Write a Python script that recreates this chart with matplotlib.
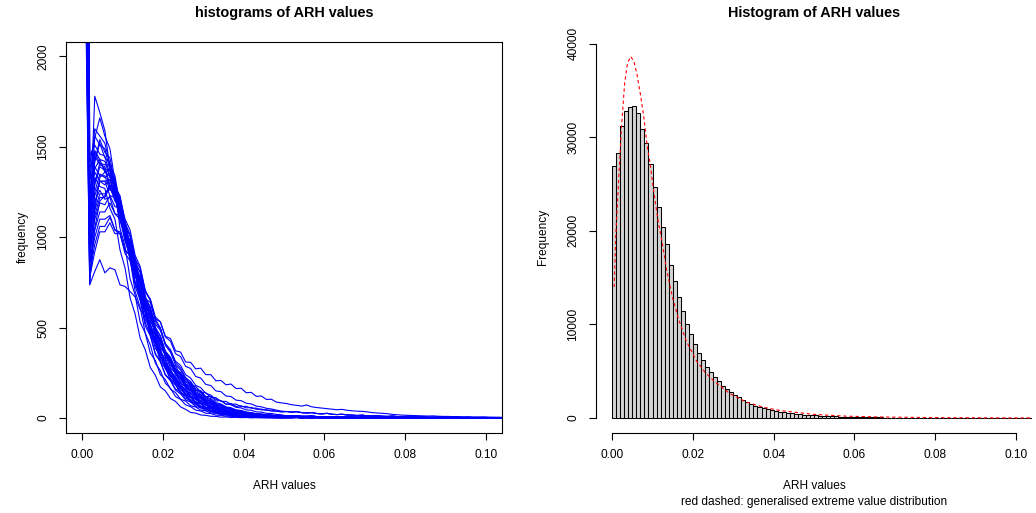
import numpy as np
import matplotlib.pyplot as plt

plt.rcParams['font.family'] = ['Liberation Sans', 'DejaVu Sans']

# left panel: one frequency polygon per sample (bin width 0.00125), first 40 bins
arh_bin = 0.00125
samples = [
    [5200, 1050, 1780, 1690, 1590, 1380, 1270, 1050, 950, 770, 680, 530, 470, 360, 318, 240, 212, 160, 141, 104, 94, 68, 61, 44, 40, 28, 27, 18, 18, 12, 12, 8, 9, 6, 6, 4, 5, 3, 4, 2],
    [4300, 1180, 1550, 1660, 1560, 1490, 1310, 1200, 1000, 900, 730, 650, 510, 455, 352, 312, 240, 212, 160, 145, 108, 98, 72, 66, 48, 45, 31, 30, 21, 20, 15, 14, 10, 10, 7, 8, 5, 6, 4, 4],
    [3600, 980, 1480, 1430, 1420, 1330, 1310, 1150, 1060, 890, 805, 665, 595, 478, 428, 338, 305, 238, 215, 165, 150, 116, 105, 80, 74, 56, 51, 38, 36, 27, 25, 19, 18, 13, 13, 9, 9, 6, 7, 5],
    [2900, 740, 1150, 1330, 1360, 1370, 1260, 1210, 1040, 950, 790, 715, 585, 525, 420, 382, 300, 272, 212, 192, 148, 136, 102, 95, 70, 66, 48, 46, 33, 32, 23, 22, 16, 15, 11, 11, 8, 8, 5, 6],
    [6100, 1250, 1420, 1520, 1440, 1410, 1280, 1220, 1050, 960, 800, 720, 585, 522, 418, 372, 290, 260, 198, 178, 134, 122, 90, 82, 60, 55, 40, 37, 27, 26, 18, 17, 12, 12, 8, 9, 6, 7, 4, 5],
    [2700, 737, 811, 876, 803, 831, 820, 737, 728, 700, 670, 600, 565, 490, 462, 390, 365, 305, 288, 238, 224, 182, 175, 144, 140, 114, 113, 92, 92, 76, 77, 63, 65, 54, 55, 45, 46, 38, 38, 33],
    [4800, 900, 1120, 1220, 1220, 1280, 1210, 1180, 1040, 970, 820, 755, 622, 570, 462, 425, 338, 310, 242, 222, 172, 158, 122, 113, 86, 81, 61, 58, 43, 42, 31, 30, 21, 21, 16, 15, 11, 11, 8, 8],
    [3900, 1020, 1300, 1410, 1400, 1400, 1270, 1180, 990, 880, 700, 612, 470, 405, 304, 262, 192, 165, 119, 103, 73, 63, 44, 39, 27, 25, 16, 15, 10, 10, 6, 7, 4, 5, 3, 3, 2, 2, 1, 2],
    [4500, 1100, 1330, 1280, 1270, 1160, 1100, 930, 830, 665, 575, 442, 378, 280, 237, 172, 150, 108, 92, 62, 48, 31, 27, 17, 15, 10, 9, 5, 6, 3, 4, 2, 3, 1, 2, 1, 1, 1, 0, 0],
    [3300, 850, 1000, 1100, 1100, 1120, 1040, 1020, 910, 870, 750, 705, 598, 552, 462, 428, 350, 328, 265, 252, 200, 195, 152, 152, 118, 121, 94, 97, 76, 80, 64, 68, 56, 59, 48, 50, 42, 44, 37, 36],
    [3000, 800, 960, 1060, 1060, 1110, 1040, 1030, 930, 900, 790, 765, 660, 640, 548, 532, 452, 440, 372, 365, 310, 308, 272, 276, 240, 240, 206, 208, 184, 188, 163, 165, 140, 142, 120, 122, 103, 104, 88, 84],
    [5600, 1300, 1600, 1560, 1520, 1400, 1340, 1180, 1090, 925, 845, 698, 630, 512, 460, 366, 330, 256, 232, 178, 162, 120, 112, 82, 76, 55, 52, 37, 35, 25, 24, 16, 16, 11, 11, 7, 8, 5, 6, 4],
    [4100, 960, 1250, 1350, 1330, 1350, 1250, 1200, 1050, 975, 825, 758, 628, 575, 470, 432, 348, 320, 255, 236, 186, 173, 135, 125, 97, 91, 70, 66, 51, 48, 37, 35, 26, 25, 20, 19, 14, 14, 10, 11],
    [7000, 1380, 1450, 1400, 1390, 1290, 1260, 1130, 1060, 905, 830, 682, 615, 490, 436, 340, 302, 230, 205, 154, 137, 102, 91, 66, 60, 43, 39, 28, 26, 18, 17, 12, 11, 7, 8, 5, 6, 3, 4, 2],
    [3400, 880, 1180, 1310, 1310, 1320, 1220, 1180, 1040, 975, 830, 768, 640, 585, 478, 435, 348, 318, 250, 228, 178, 163, 125, 116, 88, 81, 61, 57, 43, 40, 30, 29, 21, 20, 15, 14, 10, 10, 7, 7],
    [5000, 1150, 1380, 1430, 1360, 1340, 1210, 1140, 980, 900, 745, 675, 545, 492, 386, 348, 270, 243, 185, 168, 126, 115, 86, 78, 58, 53, 39, 36, 26, 24, 18, 17, 12, 12, 8, 8, 5, 6, 4, 4],
    [3800, 1000, 1200, 1260, 1210, 1220, 1130, 1100, 980, 930, 800, 748, 628, 582, 478, 440, 356, 328, 260, 240, 190, 175, 137, 128, 99, 93, 71, 68, 52, 50, 38, 36, 27, 27, 20, 20, 15, 15, 11, 11],
    [8500, 1450, 1510, 1460, 1450, 1340, 1290, 1140, 1060, 895, 815, 665, 598, 474, 420, 326, 288, 218, 193, 143, 128, 94, 84, 61, 56, 40, 37, 26, 24, 17, 16, 11, 11, 7, 7, 5, 5, 3, 4, 2],
    [4400, 1080, 1290, 1390, 1370, 1380, 1280, 1230, 1080, 1005, 850, 778, 642, 585, 472, 427, 340, 306, 242, 217, 170, 152, 118, 107, 82, 75, 57, 52, 40, 37, 27, 26, 19, 18, 13, 13, 9, 9, 6, 7],
    [3100, 780, 920, 1030, 1030, 1080, 1020, 1020, 925, 900, 790, 755, 650, 612, 520, 485, 407, 378, 314, 291, 240, 221, 181, 168, 137, 127, 103, 96, 78, 73, 59, 56, 45, 43, 34, 33, 26, 25, 20, 18],
    [6600, 1220, 1360, 1310, 1310, 1230, 1220, 1110, 1060, 920, 855, 718, 658, 538, 487, 390, 350, 277, 248, 193, 172, 133, 118, 90, 81, 61, 55, 42, 38, 28, 26, 20, 18, 13, 13, 9, 9, 6, 7, 5],
    [3500, 920, 1100, 1190, 1180, 1230, 1170, 1160, 1050, 1010, 880, 828, 705, 652, 546, 500, 412, 375, 305, 277, 223, 202, 162, 147, 117, 107, 85, 78, 62, 57, 45, 42, 33, 30, 24, 23, 18, 17, 13, 12],
    [4700, 1120, 1420, 1540, 1470, 1440, 1290, 1200, 1020, 920, 750, 668, 528, 463, 358, 312, 237, 206, 154, 134, 100, 88, 64, 57, 41, 37, 26, 24, 17, 15, 10, 10, 6, 7, 4, 5, 3, 3, 2, 2],
    [2800, 760, 1050, 1200, 1230, 1290, 1230, 1220, 1100, 1040, 900, 838, 706, 652, 538, 492, 402, 364, 294, 266, 213, 193, 154, 140, 111, 102, 80, 74, 59, 54, 43, 40, 32, 29, 23, 22, 17, 17, 13, 12],
    [5900, 1320, 1390, 1340, 1340, 1260, 1250, 1140, 1090, 950, 885, 745, 680, 560, 505, 408, 366, 290, 260, 203, 183, 141, 127, 97, 87, 67, 60, 46, 42, 31, 28, 22, 20, 15, 14, 10, 10, 7, 7, 6],
    [4000, 1000, 1230, 1310, 1290, 1320, 1240, 1210, 1080, 1015, 870, 804, 670, 614, 502, 455, 366, 331, 262, 238, 186, 170, 131, 120, 92, 85, 65, 60, 46, 42, 32, 30, 23, 21, 16, 16, 12, 12, 9, 8],
    [3200, 860, 1040, 1140, 1140, 1190, 1130, 1120, 1010, 970, 850, 810, 695, 660, 560, 532, 448, 425, 356, 340, 286, 274, 230, 221, 186, 180, 150, 146, 122, 119, 99, 96, 82, 78, 66, 62, 54, 50, 44, 38],
    [7600, 1400, 1560, 1510, 1490, 1370, 1310, 1150, 1060, 890, 805, 652, 582, 460, 406, 314, 276, 210, 183, 137, 121, 88, 79, 56, 51, 36, 33, 23, 21, 15, 14, 9, 9, 6, 6, 4, 4, 3, 3, 2],
    [3700, 940, 1150, 1240, 1240, 1280, 1200, 1170, 1040, 980, 838, 778, 650, 600, 494, 452, 370, 336, 273, 248, 200, 181, 145, 132, 105, 96, 76, 69, 55, 51, 40, 37, 30, 27, 21, 20, 15, 15, 11, 10],
    [5300, 1200, 1470, 1410, 1380, 1270, 1230, 1090, 1020, 870, 800, 665, 605, 494, 445, 357, 320, 252, 224, 175, 155, 120, 106, 81, 72, 55, 49, 37, 33, 25, 22, 16, 15, 11, 10, 8, 7, 6, 5, 4],
]

# remaining bins (0.05 .. 0.105) for each sample
tails = {
    'top': [80, 74, 70, 66, 72, 62, 58, 55, 52, 49, 46, 48, 43, 40, 38, 37, 34, 30, 28, 26, 24, 20, 18, 16, 15, 14, 13, 12, 11, 12, 10, 9, 9, 8, 8, 7, 7, 6, 6, 5, 5, 5, 4, 4],
    'hi': [36, 33, 35, 30, 28, 30, 25, 23, 26, 21, 19, 21, 17, 16, 14, 16, 12, 12, 13, 10, 9, 11, 8, 8, 9, 7, 6, 7, 5, 5, 6, 4, 4, 5, 4, 3, 4, 3, 3, 4, 3, 2, 3, 2],
    'hi2': [11, 10, 12, 9, 9, 10, 8, 7, 8, 6, 6, 7, 5, 5, 4, 5, 4, 4, 5, 3, 3, 4, 3, 2, 3, 2, 2, 3, 2, 2, 2, 1, 2, 1, 1, 2, 1, 1, 1, 1, 1, 0, 1, 1],
    'mid': [6, 5, 6, 5, 4, 4, 5, 3, 3, 4, 3, 3, 3, 2, 2, 3, 2, 2, 1, 2, 1, 1, 2, 1, 1, 1, 1, 1, 1, 0, 1, 1, 0, 1, 1, 0, 1, 0, 0, 1, 0, 0, 1, 0],
    'lo': [2, 2, 3, 1, 2, 1, 2, 1, 1, 1, 1, 0, 1, 0, 1, 1, 0, 1, 0, 0, 1, 0, 0, 1, 0, 0, 0, 1, 0, 0, 0, 0, 1, 0, 0, 0, 0, 0, 0, 1, 0, 0, 0, 0],
}
sample_tail = ['lo', 'mid', 'mid', 'mid', 'mid', 'hi', 'hi2', 'lo', 'lo', 'hi',
               'top', 'mid', 'hi2', 'lo', 'mid', 'mid', 'hi2', 'lo', 'mid', 'hi2',
               'mid', 'hi2', 'lo', 'hi2', 'mid', 'hi2', 'hi', 'lo', 'hi2', 'mid']

# right panel: pooled histogram, bin width 0.001
pooled_bin = 0.001
pooled_counts = [26900, 28300, 31200, 32800, 33200, 33300, 32600, 30900, 29400, 27100,
                 24700, 22500, 20400, 18600, 16300, 14650, 12950, 11450, 10100, 8960,
                 7960, 6970, 6190, 5400, 4910, 4410, 3980, 3410, 3130, 2770,
                 2490, 2200, 1920, 1710, 1490, 1280, 1140, 1070, 924, 853,
                 760, 690, 620, 560, 500, 455, 410, 370, 335, 300,
                 272, 246, 222, 200, 182, 165, 150, 136, 124, 112,
                 102, 93, 85, 78, 71, 65, 60, 55, 50, 46,
                 42, 39, 36, 33, 31, 28, 26, 24, 22, 21,
                 19, 18, 17, 15, 14, 13, 12, 12, 11, 10,
                 9, 9, 8, 8, 7, 7, 6, 6, 6, 5,
                 5, 5, 4, 4, 4]

# fitted generalised extreme value density (scaled to counts)
gev_x = [0.0005, 0.0009, 0.0015, 0.0023, 0.0031, 0.0038, 0.0046, 0.0054, 0.0062, 0.0070,
         0.0078, 0.0087, 0.0094, 0.0103, 0.0114, 0.0123, 0.0135, 0.0150, 0.0165, 0.0184,
         0.0209, 0.0230, 0.0251, 0.0292, 0.0333, 0.0375, 0.0416, 0.0499, 0.0580, 0.0664,
         0.0800, 0.0950, 0.1050]
gev_y = [14000, 19500, 24500, 31000, 35800, 37900, 38630, 38100, 36600, 34600,
         32300, 29000, 27200, 24200, 21000, 19000, 15800, 12800, 10500, 8200,
         6100, 4900, 4000, 2600, 1700, 1150, 800, 390, 200, 110,
         45, 18, 10]

fig = plt.figure(figsize=(10.36, 5.13), dpi=100)
ax1 = fig.add_axes([66 / 1036, 80.5 / 513, 436 / 1036, 390.5 / 513])
ax2 = fig.add_axes([596 / 1036, 80.5 / 513, 436 / 1036, 390.5 / 513])

fs = 8.6
for vals, t in zip(samples, sample_tail):
    y = vals + tails[t]
    x = arh_bin * (np.arange(len(y)) + 0.5)
    ax1.plot(x, y, color='blue', lw=0.8)

ax1.set_xlim(-0.004, 0.104)
ax1.set_ylim(-80, 2080)
ax1.set_xticks([0, 0.02, 0.04, 0.06, 0.08, 0.10])
ax1.set_xticklabels(['0.00', '0.02', '0.04', '0.06', '0.08', '0.10'])
ax1.set_yticks([0, 500, 1000, 1500, 2000])
ax1.set_yticklabels(['0', '500', '1000', '1500', '2000'], rotation=90, va='center')
for s in ax1.spines.values():
    s.set_linewidth(0.8)

counts = np.array(pooled_counts)
left_edges = pooled_bin * np.arange(len(counts))
ax2.bar(left_edges, counts, width=pooled_bin, align='edge', color='#d3d3d3',
        edgecolor='black', linewidth=0.75)
ax2.plot(gev_x, gev_y, color='red', lw=0.8, dashes=(3, 2.5))
ax2.set_xlim(-0.004, 0.104)
ax2.set_ylim(-1545, 40175)
ax2.set_xticks([0, 0.02, 0.04, 0.06, 0.08, 0.10])
ax2.set_xticklabels(['0.00', '0.02', '0.04', '0.06', '0.08', '0.10'])
ax2.set_yticks([0, 10000, 20000, 30000, 40000])
ax2.set_yticklabels(['0', '10000', '20000', '30000', '40000'], rotation=90, va='center')
ax2.spines['top'].set_visible(False)
ax2.spines['right'].set_visible(False)
ax2.spines['left'].set_bounds(0, 40000)
ax2.spines['bottom'].set_bounds(0, 0.1)
for s in ax2.spines.values():
    s.set_linewidth(0.8)

for ax in (ax1, ax2):
    ax.tick_params(direction='out', length=5, width=0.8, labelsize=fs, pad=7)

fig.text(284 / 1036, 1 - 13 / 513, 'histograms of ARH values', ha='center', va='center',
         fontsize=10.4, fontweight='bold')
fig.text(814 / 1036, 1 - 13 / 513, 'Histogram of ARH values', ha='center', va='center',
         fontsize=10.4, fontweight='bold')
fig.text(284 / 1036, 1 - 486 / 513, 'ARH values', ha='center', va='center', fontsize=fs)
fig.text(814 / 1036, 1 - 486 / 513, 'ARH values', ha='center', va='center', fontsize=fs)
fig.text(814 / 1036, 1 - 501.5 / 513, 'red dashed: generalised extreme value distribution',
         ha='center', va='center', fontsize=fs)
fig.text(23 / 1036, 1 - 237 / 513, 'frequency', rotation=90, ha='center', va='center', fontsize=fs)
fig.text(543 / 1036, 1 - 237 / 513, 'Frequency', rotation=90, ha='center', va='center', fontsize=fs)

fig.savefig('out.png', dpi=100)
